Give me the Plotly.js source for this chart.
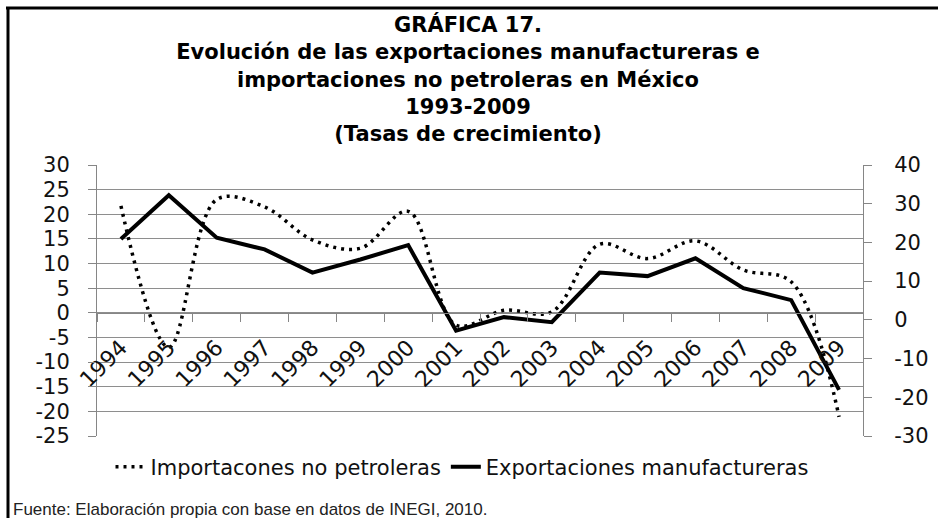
<!DOCTYPE html>
<html>
<head>
<meta charset="utf-8">
<script src="https://cdn.plot.ly/plotly-3.0.1.min.js"></script>
<style>html,body{margin:0;padding:0;background:#fff;}</style>
</head>
<body>
<div id="chart" style="width:938px;height:518px;"></div>
<script>
// ---- Data ----
const years = ['1994','1995','1996','1997','1998','1999','2000','2001','2002','2003','2004','2005','2006','2007','2008','2009'];
const importacionesNoPetroleras = [21.7, -7.0, 23.0, 21.5, 14.8, 13.1, 20.6, -2.5, 0.5, 0.2, 13.9, 11.0, 14.6, 8.7, 6.3, -21.1];
const exportacionesManufactureras = [20.9, 32.2, 21.2, 18.2, 12.2, 15.6, 19.3, -2.8, 0.7, -0.6, 12.2, 11.3, 15.9, 8.2, 5.1, -18.1];
const leftTickVals = [30, 25, 20, 15, 10, 5, 0, -5, -10, -15, -20, -25];
const leftTickText = ['30','25','20','15','10','5','0','-5','-10','-15','-20','-25'];
const rightTickVals = [40, 30, 20, 10, 0, -10, -20, -30];
const rightTickText = ['40','30','20','10','0','-10','-20','-30'];
const seriesNames = ['Importacones no petroleras', 'Exportaciones manufactureras'];
const titleText = 'GRÁFICA 17.<br>Evolución de las exportaciones manufactureras e<br>importaciones no petroleras en México<br>1993-2009<br>(Tasas de crecimiento)';
const sourceText = 'Fuente: Elaboración propia con base en datos de INEGI, 2010.';

// ---- Layout geometry ----
const W = 938, H = 518;
const M = {l: 97, r: 75, t: 165, b: 82};
const pw = W - M.l - M.r, ph = H - M.t - M.b;
const px = v => (v - M.l) / pw;          // pixel x -> paper x
const py = v => (H - M.b - v) / ph;      // pixel y -> paper y

const axisGray = '#868686';
const yTickFont = {family: 'DejaVu Sans', size: 21, color: '#111'};
const xTickFont = {family: 'DejaVu Sans', size: 22, color: '#111'};

const traces = [
  {
    x: years, y: importacionesNoPetroleras, name: seriesNames[0],
    type: 'scatter', mode: 'lines', yaxis: 'y',
    line: {color: '#000', width: 3.5, dash: '3px,5px', shape: 'spline', smoothing: 1}
  },
  {
    x: years, y: exportacionesManufactureras, name: seriesNames[1],
    type: 'scatter', mode: 'lines', yaxis: 'y2',
    line: {color: '#000', width: 4}
  }
];

const layout = {
  width: W, height: H,
  margin: M,
  paper_bgcolor: '#fff', plot_bgcolor: '#fff',
  showlegend: true,
  title: {
    text: titleText,
    font: {family: 'DejaVu Sans', size: 21, color: '#000', weight: 'bold'},
    xref: 'container', x: 468 / W, xanchor: 'center',
    yref: 'container', y: 1 - 32 / H, yanchor: 'top'
  },
  xaxis: {
    type: 'category', range: [-0.5, years.length - 0.5],
    anchor: 'free', position: 25 / 55,
    showline: true, linecolor: axisGray, linewidth: 1,
    ticks: 'outside', tickson: 'boundaries', ticklen: 8, tickcolor: axisGray,
    tickangle: -45, tickfont: xTickFont, ticklabelstandoff: 12,
    showgrid: false, zeroline: false, fixedrange: true
  },
  yaxis: {
    range: [-25, 30], tickmode: 'array', tickvals: leftTickVals, ticktext: leftTickText,
    showgrid: true, gridcolor: '#8e8e8e', gridwidth: 1,
    showline: true, linecolor: axisGray, linewidth: 1,
    ticks: 'outside', ticklen: 8, tickcolor: axisGray,
    tickfont: yTickFont, ticklabelstandoff: 14,
    zeroline: false, fixedrange: true
  },
  yaxis2: {
    overlaying: 'y', side: 'right',
    range: [-30, 40], tickmode: 'array', tickvals: rightTickVals, ticktext: rightTickText,
    showgrid: false,
    showline: true, linecolor: axisGray, linewidth: 1,
    ticks: 'outside', ticklen: 8, tickcolor: axisGray,
    tickfont: yTickFont, ticklabelstandoff: 18,
    zeroline: false, fixedrange: true
  },
  legend: {
    orientation: 'h', x: px(462), xanchor: 'center',
    y: py(467), yanchor: 'middle',
    font: {family: 'DejaVu Sans', size: 21, color: '#111'},
    bgcolor: 'rgba(0,0,0,0)', itemwidth: 30
  },
  annotations: [{
    text: sourceText, showarrow: false,
    xref: 'paper', yref: 'paper',
    x: px(11), xanchor: 'left', y: py(509), yanchor: 'middle',
    font: {family: 'Liberation Sans', size: 17, color: '#222'}
  }],
  shapes: [
    {type: 'line', xref: 'paper', yref: 'paper', x0: px(6), x1: px(940), y0: py(8), y1: py(8),
     line: {color: '#000', width: 3}},
    {type: 'line', xref: 'paper', yref: 'paper', x0: px(8), x1: px(8), y0: py(7), y1: py(520),
     line: {color: '#000', width: 3}}
  ]
};

Plotly.newPlot('chart', traces, layout, {displayModeBar: false, staticPlot: true});
</script>
</body>
</html>
